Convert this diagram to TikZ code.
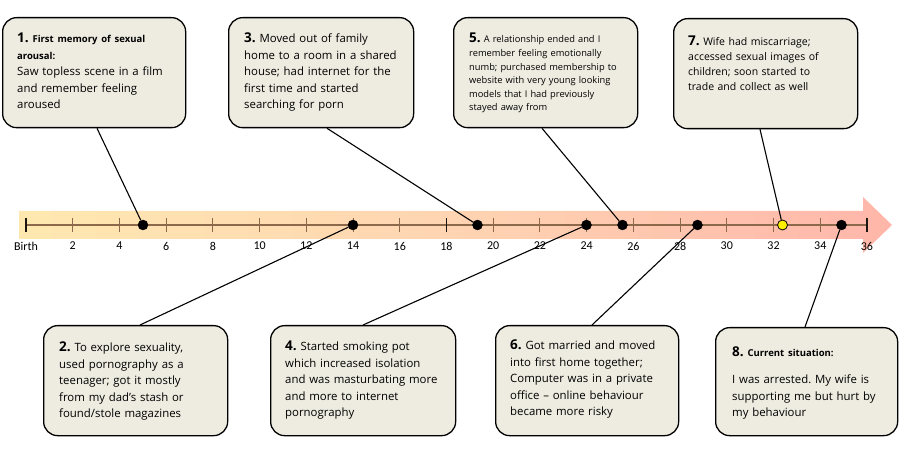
\documentclass[tikz,border=0pt]{standalone}
\usepackage{fontspec}
\setmainfont{Open Sans}
\newfontfamily\axisfont{Carlito}
\usetikzlibrary{calc}
\definecolor{bandL}{RGB}{255,232,176}
\definecolor{bandM}{RGB}{255,212,178}
\definecolor{bandR}{RGB}{255,182,170}
\definecolor{boxfill}{RGB}{238,236,225}
\definecolor{axisc}{RGB}{140,105,75}
\definecolor{dotyellow}{RGB}{255,240,0}
\tikzset{
  evbox/.style={draw=black, line width=1.3pt, fill=boxfill, rounded corners=14pt, inner sep=0},
  evtext/.style={anchor=base west, align=left, inner sep=0, text width=185pt, font=\fontsize{11.4}{16.5}\selectfont},
  smalltext/.style={evtext, font=\fontsize{9.3}{13.6}\selectfont},
  midtext/.style={evtext, font=\fontsize{10.5}{15}\selectfont},
  evdot/.style={circle, fill=black, draw=black, minimum size=10pt, inner sep=0},
  ydot/.style={evdot, fill=dotyellow, line width=0.8pt},
  conn/.style={draw=black, line width=1.1pt},
  tick/.style={draw=axisc, line width=0.9pt},
  endtick/.style={draw=black!80!axisc, line width=1.2pt},
  ticklab/.style={font=\axisfont\fontsize{12}{13}\selectfont, anchor=center, inner sep=0},
}
\newcommand{\hd}[1]{{\bfseries\fontsize{13.5}{13}\selectfont #1}}
\newcommand{\bsm}[1]{{\bfseries\fontsize{9.5}{10}\selectfont #1}}
\begin{document}
\begin{tikzpicture}[x=1pt,y=-1pt]
\frenchspacing
\useasboundingbox (0,0) rectangle (900,454);
% timeline band arrow
\shade[left color=bandL, right color=bandR, middle color=bandM]
  (19,211) -- (863,211) -- (863,197) -- (892,225) -- (863,253) -- (863,239) -- (19,239) -- cycle;
% axis
\coordinate (a0) at (26,225);
\coordinate (a36) at (867,225);
\draw[draw=axisc, line width=1.1pt] (a0) -- (a36);
\foreach \y in {2,4,...,34} {
  \draw[tick] ({26+23.36*\y},218) -- ({26+23.36*\y},232);
}
\draw[endtick] (26,218) -- (26,232);
\draw[endtick] (446.5,218) -- (446.5,232);
\draw[endtick] (867,218) -- (867,232);
\node[ticklab] (lb) at (26,246) {Birth};
\foreach \y in {2,4,...,36} {
  \node[ticklab] (l\y) at ({26+23.36*\y},246) {\y};
}
% dots
\node[evdot] (d1) at (143,225) {};
\node[evdot] (d2) at (353,225) {};
\node[evdot] (d3) at (477.5,225) {};
\node[evdot] (d4) at (586.5,225) {};
\node[evdot] (d5) at (622.5,225) {};
\node[evdot] (d6) at (697.5,225) {};
\node[ydot] (d7) at (782.5,225) {};
\node[evdot] (d8) at (841.5,225) {};
% boxes
\node[evbox, minimum width=183pt, minimum height=110pt, anchor=north west] (b1) at (2,17) {};
\node[evbox, minimum width=185pt, minimum height=110pt, anchor=north west] (b3) at (228,17) {};
\node[evbox, minimum width=184pt, minimum height=110pt, anchor=north west] (b5) at (453,17) {};
\node[evbox, minimum width=184pt, minimum height=110pt, anchor=north west] (b7) at (673,18) {};
\node[evbox, minimum width=184pt, minimum height=110pt, anchor=north west] (b2) at (43,325) {};
\node[evbox, minimum width=185pt, minimum height=110pt, anchor=north west] (b4) at (270,325) {};
\node[evbox, minimum width=183pt, minimum height=110pt, anchor=north west] (b6) at (495,325) {};
\node[evbox, minimum width=182pt, minimum height=108pt, anchor=north west] (b8) at (715,327) {};
% connectors
\draw[conn] ($(b1.south west)+(95,0)$) -- (d1);
\draw[conn] ($(b3.south west)+(99,0)$) -- (d3);
\draw[conn] ($(b5.south west)+(89,0)$) -- (d5);
\draw[conn] ($(b7.south west)+(87,0)$) -- (d7);
\draw[conn] ($(b2.north west)+(97,0)$) -- (d2);
\draw[conn] ($(b4.north west)+(93,0)$) -- (d4);
\draw[conn] ($(b6.north west)+(97,0)$) -- (d6);
\draw[conn] ($(b8.north west)+(90,0)$) -- (d8);
% texts
\node[evtext] (t1) at (17,43) {\hd{1.} \bsm{First memory of sexual}\\ \bsm{arousal:}\\ Saw topless scene in a film\\ and remember feeling\\ aroused};
\node[evtext] (t3) at (244,43) {\hd{3.} Moved out of family\\ home to a room in a shared\\ house; had internet for the\\ first time and started\\ searching for porn};
\node[smalltext] (t5) at (469,43) {\hd{5.} A relationship ended and I\\ remember feeling emotionally\\ numb; purchased membership to\\ website with very young looking\\ models that I had previously\\ stayed away from};
\node[midtext] (t7) at (688,46) {\hd{7.} Wife had miscarriage;\\ accessed sexual images of\\ children; soon started to\\ trade and collect as well};
\node[evtext] (t2) at (59,352) {\hd{2.} To explore sexuality,\\ used pornography as a\\ teenager; got it mostly\\ from my dad's stash or\\ found/stole magazines};
\node[evtext] (t4) at (285,351) {\hd{4.} Started smoking pot\\ which increased isolation\\ and was masturbating more\\ and more to internet\\ pornography};
\node[evtext] (t6) at (510,350) {\hd{6.} Got married and moved\\ into first home together;\\ Computer was in a private\\ office -- online behaviour\\ became more risky};
\node[evtext] (t8) at (732,356) {\hd{8.} \bsm{Current situation:}\\[11.5pt] I was arrested. My wife is\\ supporting me but hurt by\\ my behaviour};
\end{tikzpicture}
\end{document}
